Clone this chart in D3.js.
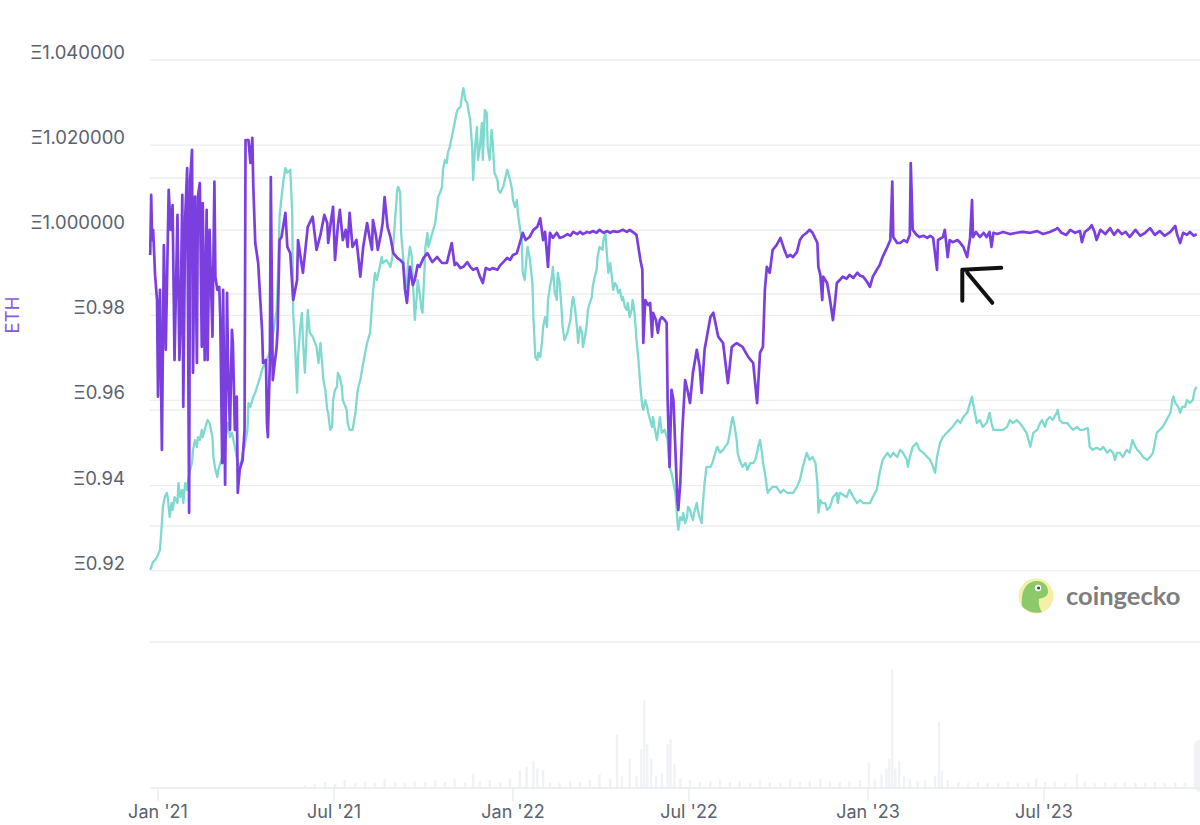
<!DOCTYPE html>
<html><head><meta charset="utf-8">
<script src="https://cdn.jsdelivr.net/npm/d3@7"></script>
<style>
html,body{margin:0;padding:0;background:#fff;}
svg{display:block;font-family:Inter,"Noto Sans",sans-serif;}
</style></head><body>
<svg id="chart" width="1200" height="825"></svg>
<script>
// ---- data ----
const yTickValues = [1.04, 1.02, 1.00, 0.98, 0.96, 0.94, 0.92];
const yTickLabels = ["Ξ1.040000", "Ξ1.020000", "Ξ1.000000", "Ξ0.98", "Ξ0.96", "Ξ0.94", "Ξ0.92"];
const secondaryTicks = [0.90, 0.93, 0.96, 0.99, 1.02];
const xTickDates = ["2021-01-01", "2021-07-01", "2022-01-01", "2022-07-01", "2023-01-01", "2023-07-01"];
const xTickLabels = ["Jan '21", "Jul '21", "Jan '22", "Jul '22", "Jan '23", "Jul '23"];
const axisLabel = "ETH";
// [days since 2021-01-01, price in ETH]
const purple = [
[-8,.9942],[-7,1.0083],[-6,.9977],[-5,1.0001],[-3,.9895],[-1,.9836],[0,.9609],[2,.9860],[4,.9484],[6,.9965],[8,.9719],[11,1.0095],[13,1.0001],[15,1.0059],[17,.9695],[20,1.0036],[22,.9695],[23,.9766],[25,1.0083],[26,.9585],[28,1.0032],[30,1.0146],[32,.9336],[33,1.0118],[35,1.0189],[36,.9665],[38,1.0079],[40,.9688],[41,1.0079],[43,1.0111],[45,.9726],[46,1.0064],[48,.9695],[50,1.0048],[51,.9695],[53,1.0001],[56,.9750],[58,1.0114],[59,.9891],[61,.9860],[63,.9867],[64,.9796],[66,.9453],[67,.9860],[69,.9402],[71,.9853],[72,.9688],[74,.9531],[76,.9766],[77,.9735],[79,.9531],[81,.9609],[82,.9383],[84,.9437],[86,.9453],[87,.9460],[89,.9531],[90,1.0212],[93,1.0212],[95,1.0158],[97,1.0217],[98,1.0102],[100,.9970],[103,.9923],[105,.9843],[107,.9766],[108,.9688],[111,.9695],[112,.9547],[113,.9514],[115,.9688],[116,1.0125],[118,.9648],[120,.9688],[122,.9726],[123,.9766],[125,.9977],[127,.9984],[131,1.0041],[133,.9961],[136,.9946],[139,.9836],
[143,.9883],[144,.9977],[149,.9900],[154,1.0008],[159,1.0032],[163,.9954],[167,.9989],[171,1.0036],[174,1.0017],[175,.9970],[178,1.0024],[180,1.0055],[182,.9930],[185,1.0012],[187,1.0048],[190,.9977],[193,1.0001],[195,.9961],[197,1.0041],[200,.9961],[204,.9977],[206,.9937],[208,.9891],[211,.9961],[215,1.0017],[218,.9977],[220,.9954],[221,1.0024],[224,.9989],[226,.9954],[229,.9989],[231,1.0017],[233,1.0078],[236,1.0008],[239,.9984],[242,.9946],[246,.9935],[249,.9930],[252,.9923],[254,.9860],[256,.9829],[259,.9914],[262,.9871],[264,.9883],[267,.9918],[269,.9914],[273,.9935],[277,.9946],[282,.9925],[287,.9937],[292,.9923],[297,.9923],[302,.9970],[305,.9918],[307,.9923],[311,.9911],[314,.9914],[318,.9925],[321,.9914],[324,.9907],[328,.9911],[331,.9891],[334,.9876],[337,.9911],[341,.9907],[344,.9911],[349,.9907],[352,.9918],[355,.9925],[359,.9935],[362,.9930],[365,.9942],[369,.9946],[372,.9970],[375,.9994],[378,.9977],[382,.9984],[386,1.0001],[390,1.0008],[393,1.0028],[396,.9977],[398,.9996],[401,.9914],[403,.9994],[406,.9982],[410,.9994],[413,.9982],[416,.9984],[421,.9991],[424,.9987],[427,.9996],[431,.9991],[434,.9996],[437,.9991],[441,.9996],[444,.9994],[447,.9998],[451,.9994],[454,1.0001],[458,.9994],[462,.9998],[465,.9994],[468,.9998],[472,.9996],[475,.9998],[478,1.0001],[482,.9996],[485,1.0001],[488,.9996],[492,.9989],
[496,.9930],[498,.9907],[499,.9735],[501,.9836],[504,.9824],[506,.9829],[508,.9750],[509,.9806],[512,.9789],[514,.9759],[516,.9789],[518,.9796],[521,.9789],[523,.9782],[524,.9601],[526,.9444],[528,.9625],[530,.9601],[532,.9484],[534,.9366],[535,.9343],[537,.9406],[539,.9524],[542,.9648],[545,.9618],[547,.9594],[550,.9665],[554,.9719],[557,.9679],[559,.9618],[562,.9719],[568,.9796],[571,.9806],[576,.9750],[581,.9735],[586,.9641],[590,.9726],[595,.9735],[601,.9726],[607,.9702],[612,.9688],[616,.9594],[619,.9712],[622,.9726],[624,.9860],[626,.9914],[629,.9900],[632,.9954],[636,.9965],[640,.9982],[644,.9954],[647,.9937],[650,.9942],[653,.9937],[657,.9949],[660,.9977],[663,.9987],[667,.9994],[670,1.0001],[673,.9994],[678,.9970],[679,.9914],[681,.9895],[683,.9836],[684,.9891],[688,.9876],[691,.9836],[694,.9789],[696,.9829],[698,.9876],[701,.9883],[704,.9891],[708,.9886],[711,.9895],[715,.9888],[719,.9900],[722,.9893],[725,.9891],[729,.9879],[732,.9867],[735,.9891],[739,.9907],[742,.9918],[745,.9937],[750,.9961],[753,.9977],[755,1.0114],[756,.9984],[760,.9970],[763,.9970],[767,.9977],[770,.9972],[773,.9989],[774,1.0158],[776,1.0001],[780,.9989],[783,.9984],[787,.9987],[791,.9982],[794,.9987],[797,.9982],[801,.9907],[802,.9977],[807,.9984],[809,1.0001],[812,.9937],[814,.9977],[817,.9972],[822,.9977],[825,.9970],[828,.9961],[832,.9937],[835,.9982],[837,1.0071],[838,.9984],[841,.9996],[845,.9984],[849,.9994],[852,.9984],[855,.9996],[857,.9961],[859,.9994],
[863,.9991],[869,.9996],[876,.9991],[883,.9994],[889,.9996],[897,.9994],[904,.9998],[910,.9991],[917,.9996],[922,1.0001],[925,1.0005],[929,.9994],[934,.9989],[938,1.0001],[943,.9994],[948,.9998],[950,.9972],[953,.9996],[958,1.0005],[960,1.0012],[963,.9996],[965,.9977],[969,1.0001],[974,.9991],[979,1.0005],[983,.9989],[987,1.0001],[991,.9991],[995,.9996],[999,.9984],[1005,1.0001],[1010,.9987],[1015,.9994],[1020,1.0005],[1025,.9989],[1030,.9998],[1035,.9987],[1041,.9996],[1046,1.0010],[1048,.9989],[1051,.9970],[1054,.9994],[1058,.9989],[1061,.9996],[1065,.9987],[1068,.9991]
];
const teal = [
[-8,.9202],[-5,.9221],[-3,.9225],[0,.9237],[2,.9249],[4,.9312],[5,.9350],[7,.9373],[9,.9383],[10,.9373],[12,.9326],[14,.9359],[15,.9343],[17,.9373],[20,.9359],[21,.9406],[23,.9373],[25,.9390],[26,.9359],[28,.9406],[30,.9390],[31,.9413],[33,.9437],[35,.9453],[36,.9484],[38,.9507],[40,.9491],[41,.9514],[43,.9507],[45,.9531],[46,.9514],[48,.9531],[50,.9547],[51,.9554],[53,.9547],[56,.9514],[57,.9467],[59,.9437],[61,.9420],[62,.9437],[66,.9467],[69,.9507],[71,.9531],[72,.9547],[74,.9514],[76,.9524],[79,.9491],[82,.9453],[84,.9444],[86,.9460],[87,.9477],[89,.9491],[92,.9531],[93,.9594],[95,.9585],[98,.9609],[100,.9618],[103,.9641],[105,.9655],[107,.9672],[110,.9688],[113,.9702],[117,.9726],[118,.9750],[120,.9782],[122,.9813],[123,.9867],[125,1.0032],[127,1.0078],[129,1.0118],[131,1.0146],[133,1.0135],[136,1.0142],[138,1.0041],[139,.9806],[141,.9726],[143,.9618],[144,.9702],[146,.9766],[148,.9806],[149,.9742],[151,.9665],[153,.9766],[154,.9813],[156,.9759],[159,.9750],[163,.9726],[165,.9688],[167,.9735],[169,.9679],[170,.9648],[172,.9625],[174,.9578],[175,.9571],[177,.9531],[179,.9538],[180,.9601],[182,.9625],[184,.9632],[185,.9665],[187,.9655],[189,.9632],[190,.9601],[194,.9578],[195,.9547],[197,.9531],[200,.9531],[203,.9571],[205,.9618],[206,.9632],[208,.9648],[211,.9688],[215,.9735],[218,.9759],[221,.9853],[223,.9900],[225,.9883],[228,.9914],[230,.9937],[231,.9923],[235,.9930],[239,.9914],[241,.9937],[242,.9970],[246,1.0095],[247,1.0102],[249,1.0088],[250,.9994],[252,.9937],[254,.9883],[256,.9867],[257,.9923],[259,.9961],[261,.9937],[262,.9883],[264,.9789],[266,.9843],[267,.9883],[269,.9853],[271,.9813],[272,.9806],[275,.9961],[277,.9994],[278,.9961],[280,.9977],[283,1.0001],[285,1.0017],[287,1.0055],[288,1.0078],[290,1.0088],[292,1.0102],[293,1.0142],[295,1.0165],[297,1.0158],[298,1.0182],[300,1.0196],[303,1.0229],[305,1.0252],[307,1.0276],[308,1.0283],[311,1.0290],[313,1.0323],[314,1.0334],[316,1.0306],[318,1.0299],[319,1.0283],[321,1.0259],[323,1.0196],[324,1.0118],[326,1.0196],[328,1.0243],[329,1.0165],[331,1.0196],[333,1.0252],[334,1.0165],[336,1.0283],[338,1.0276],[339,1.0196],[341,1.0165],[343,1.0236],[344,1.0212],[346,1.0135],[349,1.0118],[350,1.0095],[352,1.0088],[355,1.0102],[359,1.0142],[360,1.0135],[362,1.0118],[364,1.0095],[365,1.0071],[367,1.0055],[369,1.0071],[370,1.0041],[372,1.0008],[374,.9977],[375,.9900],[377,.9883],[379,.9937],[380,.9961],[382,.9937],[385,.9876],[386,.9796],[388,.9702],[390,.9695],[391,.9712],[393,.9702],[395,.9742],[396,.9773],[398,.9796],[400,.9773],[401,.9836],[403,.9867],[405,.9891],[406,.9914],[408,.9853],[410,.9836],[411,.9900],[413,.9876],[415,.9813],[416,.9773],[418,.9742],[421,.9759],[424,.9789],[426,.9836],[427,.9843],[429,.9813],[431,.9766],[432,.9735],[434,.9773],[436,.9759],[437,.9726],[439,.9749],[441,.9782],[442,.9813],[444,.9829],[446,.9843],[447,.9867],[449,.9891],[451,.9907],[452,.9937],[454,.9961],[457,.9954],[458,.9977],[460,.9994],[462,.9930],[463,.9900],[465,.9923],[467,.9883],[468,.9860],[470,.9876],[472,.9867],[473,.9853],[475,.9860],[477,.9836],[478,.9843],[480,.9820],[482,.9813],[483,.9829],[485,.9796],[487,.9813],[488,.9836],[490,.9806],[492,.9742],[494,.9695],[496,.9632],[498,.9585],[499,.9578],[501,.9601],[503,.9585],[504,.9571],[506,.9554],[508,.9538],[509,.9561],[511,.9531],[513,.9507],[514,.9524],[516,.9561],[518,.9524],[521,.9531],[524,.9507],[526,.9444],[528,.9430],[530,.9406],[532,.9383],[534,.9319],[535,.9296],[537,.9326],[539,.9319],[540,.9336],[542,.9312],[544,.9326],[545,.9350],[547,.9343],[549,.9326],[550,.9319],[552,.9343],[554,.9359],[555,.9343],[557,.9326],[559,.9312],[560,.9350],[562,.9406],[564,.9444],[568,.9444],[570,.9453],[573,.9477],[575,.9491],[578,.9477],[581,.9484],[583,.9491],[586,.9500],[588,.9524],[590,.9554],[591,.9561],[593,.9538],[595,.9507],[596,.9477],[598,.9460],[601,.9444],[604,.9453],[606,.9437],[609,.9453],[612,.9453],[614,.9460],[616,.9477],[617,.9491],[619,.9507],[621,.9477],[622,.9453],[624,.9430],[626,.9397],[627,.9383],[629,.9390],[632,.9397],[636,.9397],[640,.9383],[643,.9390],[647,.9383],[650,.9383],[653,.9383],[657,.9397],[660,.9413],[663,.9444],[667,.9477],[670,.9460],[673,.9467],[676,.9453],[678,.9406],[679,.9336],[681,.9366],[683,.9359],[686,.9359],[688,.9343],[691,.9350],[694,.9373],[698,.9383],[699,.9359],[701,.9383],[708,.9373],[711,.9390],[715,.9373],[719,.9359],[722,.9366],[725,.9359],[732,.9359],[735,.9373],[739,.9390],[742,.9430],[745,.9460],[750,.9477],[753,.9467],[756,.9477],[760,.9467],[763,.9484],[766,.9477],[770,.9460],[771,.9444],[773,.9467],[776,.9491],[780,.9500],[783,.9484],[787,.9477],[791,.9467],[794,.9460],[797,.9444],[799,.9430],[801,.9467],[804,.9500],[807,.9514],[811,.9524],[814,.9531],[817,.9538],[822,.9554],[825,.9547],[828,.9561],[832,.9571],[835,.9594],[837,.9609],[838,.9594],[842,.9547],[845,.9554],[848,.9538],[852,.9547],[855,.9571],[857,.9547],[859,.9531],[863,.9531],[869,.9531],[873,.9538],[876,.9554],[879,.9547],[883,.9554],[886,.9547],[889,.9538],[893,.9524],[897,.9491],[900,.9524],[904,.9531],[907,.9547],[909,.9554],[912,.9538],[914,.9554],[917,.9561],[920,.9554],[924,.9571],[925,.9578],[927,.9554],[930,.9547],[935,.9547],[938,.9538],[941,.9531],[945,.9538],[948,.9531],[951,.9531],[956,.9535],[958,.9491],[961,.9484],[965,.9489],[969,.9484],[972,.9491],[976,.9477],[979,.9484],[982,.9477],[984,.9460],[986,.9477],[989,.9477],[992,.9467],[996,.9484],[999,.9477],[1002,.9507],[1005,.9491],[1007,.9484],[1010,.9477],[1013,.9467],[1017,.9460],[1020,.9467],[1023,.9477],[1027,.9524],[1030,.9531],[1033,.9538],[1037,.9554],[1041,.9571],[1043,.9601],[1044,.9609],[1046,.9594],[1049,.9585],[1051,.9571],[1053,.9585],[1056,.9585],[1058,.9601],[1061,.9594],[1064,.9601],[1066,.9625],[1068,.9632]
];
// [days since 2021-01-01, trading volume (relative units)]
const volume = [
[151,3],[161,4],[172,6],[182,4],[192,8],[203,5],[213,7],[223,5],[233,9],[244,6],[254,5],[264,7],[275,6],[285,8],[295,6],[305,9],[316,6],[324,15],[331,7],[341,8],[352,6],[362,9],[372,18],[379,22],[386,28],[390,20],[396,18],[403,6],[413,5],[424,7],[434,6],[444,8],[454,14],[465,9],[472,55],[477,12],[485,30],[492,12],[497,40],[500,90],[503,45],[507,30],[512,12],[518,15],[524,45],[527,50],[531,25],[537,10],[547,8],[557,6],[568,7],[578,9],[588,6],[598,7],[609,5],[619,8],[629,6],[640,5],[650,9],[660,6],[670,7],[681,9],[691,7],[701,6],[711,7],[722,8],[731,26],[737,9],[744,14],[749,20],[752,30],[755,122],[758,20],[762,28],[767,12],[773,9],[781,7],[789,8],[799,12],[803,68],[806,18],[812,8],[823,6],[833,5],[843,6],[853,5],[864,5],[874,6],[884,5],[895,6],[903,10],[912,6],[922,7],[933,5],[945,15],[953,7],[963,5],[974,6],[984,5],[994,6],[1005,5],[1015,5],[1025,6],[1035,5],[1046,6],[1056,5],[1066,5]
];
// annotation arrow tip (hand-drawn marker in the reference)
const arrowTip = {day: 827, value: 0.9907};

// ---- drawing ----
const svg = d3.select("#chart");
const DAY = 864e5, T0 = Date.UTC(2021, 0, 1);
const toDate = d => new Date(T0 + d * DAY);
const plotLeft = 150, plotRight = 1200;

const x = d3.scaleUtc().domain([new Date("2021-01-01"), new Date("2023-07-01")]).range([158, 1044]);
const y = d3.scaleLinear().domain([0.92, 1.04]).range([570.7, 60]);
const y2 = d3.scaleLinear().domain([0.90, 1.02]).range([642, 178]);
const yVol = d3.scaleLinear().domain([0, 150]).range([788, 642]);

// gridlines
const grid = svg.append("g");
grid.selectAll("line.g1").data(yTickValues).join("line")
  .attr("x1", plotLeft).attr("x2", plotRight)
  .attr("y1", d => y(d)).attr("y2", d => y(d))
  .attr("stroke", "#eceef1").attr("stroke-width", 1.3);
grid.selectAll("line.g2").data(secondaryTicks).join("line")
  .attr("x1", plotLeft).attr("x2", plotRight)
  .attr("y1", d => y2(d)).attr("y2", d => y2(d))
  .attr("stroke", "#eceef1").attr("stroke-width", 1.3);

// volume
svg.append("g").selectAll("rect").data(volume).join("rect")
  .attr("x", d => x(toDate(d[0])) - 1.2).attr("width", 2.4)
  .attr("y", d => yVol(d[1])).attr("height", d => yVol(0) - yVol(d[1]))
  .attr("fill", "#f1f2f5");

// volume slider handle
svg.append("rect").attr("x", 1194).attr("y", 740).attr("width", 14).attr("height", 52)
  .attr("rx", 6).attr("fill", "#f1f2f5");

// x axis
const xAxisG = svg.append("g");
xAxisG.append("line").attr("x1", plotLeft).attr("x2", plotRight)
  .attr("y1", yVol(0)).attr("y2", yVol(0)).attr("stroke", "#e8eaed").attr("stroke-width", 1.3);
const xt = xTickDates.map((s, i) => ({date: new Date(s), label: xTickLabels[i]}));
xAxisG.selectAll("line.t").data(xt).join("line")
  .attr("x1", d => x(d.date)).attr("x2", d => x(d.date))
  .attr("y1", yVol(0)).attr("y2", yVol(0) + 13)
  .attr("stroke", "#e8eaed").attr("stroke-width", 1.3);
xAxisG.selectAll("text").data(xt).join("text")
  .attr("x", d => x(d.date)).attr("y", 818)
  .attr("text-anchor", "middle").attr("fill", "#5b6270").attr("font-size", 18)
  .text(d => d.label);

// y axis labels
svg.append("g").selectAll("text").data(yTickValues).join("text")
  .attr("x", 125).attr("y", d => y(d) - 8)
  .attr("text-anchor", "end").attr("dominant-baseline", "central")
  .attr("fill", "#5b6270").attr("font-size", 18.5)
  .text((d, i) => yTickLabels[i]);

svg.append("text").attr("transform", "translate(12,315) rotate(-90)")
  .attr("text-anchor", "middle").attr("dominant-baseline", "central")
  .attr("fill", "#8a5bd8").attr("font-size", 18.5).text(axisLabel);

// lines
const line = d3.line().x(d => x(toDate(d[0]))).y(d => y(d[1]));
svg.append("path").datum(teal).attr("d", line)
  .attr("fill", "none").attr("stroke", "#7fd9cf").attr("stroke-width", 2.3)
  .attr("stroke-linejoin", "round");
svg.append("path").datum(purple).attr("d", line)
  .attr("fill", "none").attr("stroke", "#7b3fe0").attr("stroke-width", 2.7)
  .attr("stroke-linejoin", "round");

// coingecko watermark
const logo = svg.append("g").attr("transform", "translate(1036,596)");
logo.append("circle").attr("r", 17.5).attr("fill", "#f6efa8");
logo.append("path")
  .attr("d", "M-14,10 C-15,-2 -12,-13 -1,-15 C8,-16 13,-9 12,-3 C11,1 6,2 3,3 C2,8 4,13 6,16 C-2,18 -10,15 -14,10 Z")
  .attr("fill", "#8cc96b");
logo.append("circle").attr("cx", 2).attr("cy", -8).attr("r", 3.2).attr("fill", "#fff");
logo.append("circle").attr("cx", 2.6).attr("cy", -8).attr("r", 1.6).attr("fill", "#4a4a4a");
svg.append("text").attr("x", 1066).attr("y", 605)
  .attr("font-family", "Lato, 'Noto Sans', sans-serif").attr("font-weight", 700)
  .attr("font-size", 25.5).attr("fill", "#7e7e7e").text("coingecko");

// annotation arrow
const ax = x(toDate(arrowTip.day)), ay = y(arrowTip.value);
svg.append("path")
  .attr("d", `M${ax},${ay + 31} L${ax},${ay} L${ax + 39},${ay - 2} M${ax + 5},${ay + 3} L${ax + 30},${ay + 33}`)
  .attr("fill", "none").attr("stroke", "#111").attr("stroke-width", 4)
  .attr("stroke-linecap", "round").attr("stroke-linejoin", "round");
</script>
</body></html>
